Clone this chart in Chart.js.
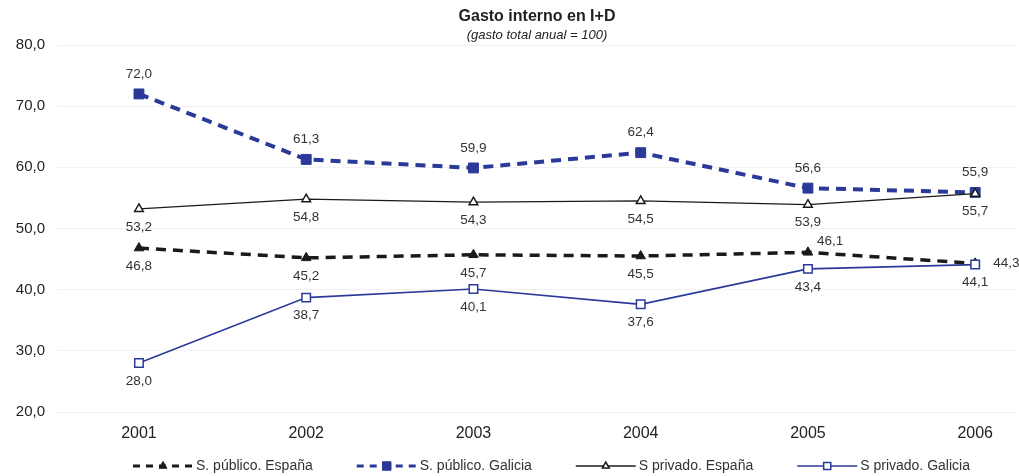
<!DOCTYPE html>
<html>
<head>
<meta charset="utf-8">
<script src="https://cdn.jsdelivr.net/npm/chart.js@4/dist/chart.umd.min.js"></script>
<style>
  html, body { margin: 0; padding: 0; background: #fff; }
  #wrap { width: 1019px; height: 476px; position: relative; }
</style>
</head>
<body>
<div id="wrap"><canvas id="gastoChart"></canvas></div>
<script>
// data
const years = [2001, 2002, 2003, 2004, 2005, 2006];
const publicoEspana = [46.8, 45.2, 45.7, 45.5, 46.1, 44.3];
const publicoGalicia = [72.0, 61.3, 59.9, 62.4, 56.6, 55.9];
const privadoEspana = [53.2, 54.8, 54.3, 54.5, 53.9, 55.7];
const privadoGalicia = [28.0, 38.7, 40.1, 37.6, 43.4, 44.1];
const yTicks = [20, 30, 40, 50, 60, 70, 80];

const FONT = "'Liberation Sans', Arial, sans-serif";
const BLUE = '#2b3a98';
const BLACK = '#1a1a1a';
const TXT = '#333333';

function fmt(v){ return v.toFixed(1).replace('.', ','); }
function pts(arr){ return arr.map(function(v, i){ return { x: years[i], y: v }; }); }

// labels next to each point
const pointLabels = {
  id: 'pointLabels',
  afterDatasetsDraw(chart){
    const ctx = chart.ctx;
    ctx.save();
    ctx.font = '13.5px ' + FONT;
    ctx.fillStyle = TXT;
    chart.data.datasets.forEach(function(ds, di){
      const meta = chart.getDatasetMeta(di);
      meta.data.forEach(function(el, i){
        const pos = (ds.labelPos && ds.labelPos[i]) || 'below';
        const txt = fmt(ds.data[i].y);
        let x = el.x, y = el.y;
        ctx.textBaseline = 'middle';
        ctx.textAlign = 'center';
        if (pos === 'above') y -= 20;
        else if (pos === 'below') y += 18;
        else if (pos === 'right') { ctx.textAlign = 'left'; x += 18; }
        else if (pos === 'aboveRight') { ctx.textAlign = 'left'; x += 9; y -= 11; }
        ctx.fillText(txt, x, y);
      });
    });
    ctx.restore();
  }
};

// legend drawn by hand so that each sample is a line with its marker
const lineLegend = {
  id: 'lineLegend',
  afterDraw(chart){
    const ctx = chart.ctx;
    const y = chart.height - 10;
    const sample = 60, gap = 44;
    let x = 133;
    ctx.save();
    ctx.font = '14px ' + FONT;
    ctx.textBaseline = 'middle';
    ctx.textAlign = 'left';
    chart.data.datasets.forEach(function(ds){
      ctx.save();
      ctx.strokeStyle = ds.borderColor;
      ctx.lineWidth = Math.min(ds.borderWidth, 3);
      ctx.setLineDash(ds.borderDash ? [7, 6] : []);
      ctx.beginPath();
      ctx.moveTo(x, y);
      ctx.lineTo(x + sample, y);
      ctx.stroke();
      ctx.setLineDash([]);
      ctx.fillStyle = ds.pointBackgroundColor;
      ctx.strokeStyle = ds.pointBorderColor;
      ctx.lineWidth = ds.pointBorderWidth;
      Chart.helpers.drawPoint(ctx, { pointStyle: ds.pointStyle, radius: ds.pointRadius - 1, borderWidth: ds.pointBorderWidth, rotation: 0 }, x + sample / 2, y);
      ctx.restore();
      ctx.fillStyle = TXT;
      ctx.fillText(ds.label, x + sample + 3, y);
      x += sample + 3 + ctx.measureText(ds.label).width + gap;
    });
    ctx.restore();
  }
};

document.addEventListener('DOMContentLoaded', function(){
  const ctx = document.getElementById('gastoChart');
  new Chart(ctx, {
    type: 'line',
    data: {
      datasets: [{
        label: 'S. público. España',
        data: pts(publicoEspana),
        borderColor: BLACK,
        borderWidth: 3.5,
        borderDash: [10, 7],
        pointStyle: 'triangle',
        pointRadius: 5.5,
        pointBackgroundColor: BLACK,
        pointBorderColor: BLACK,
        pointBorderWidth: 1,
        labelPos: ['below', 'below', 'below', 'below', 'aboveRight', 'right'],
        order: 3
      }, {
        label: 'S. público. Galicia',
        data: pts(publicoGalicia),
        borderColor: BLUE,
        borderWidth: 4,
        borderDash: [10, 7],
        pointStyle: 'rect',
        pointRadius: 7,
        pointBackgroundColor: BLUE,
        pointBorderColor: BLUE,
        pointBorderWidth: 1,
        labelPos: ['above', 'above', 'above', 'above', 'above', 'above'],
        order: 2
      }, {
        label: 'S privado. España',
        data: pts(privadoEspana),
        borderColor: BLACK,
        borderWidth: 1.3,
        pointStyle: 'triangle',
        pointRadius: 5,
        pointBackgroundColor: '#ffffff',
        pointBorderColor: BLACK,
        pointBorderWidth: 1.5,
        labelPos: ['below', 'below', 'below', 'below', 'below', 'below'],
        order: 1
      }, {
        label: 'S privado. Galicia',
        data: pts(privadoGalicia),
        borderColor: BLUE,
        borderWidth: 1.6,
        pointStyle: 'rect',
        pointRadius: 6,
        pointBackgroundColor: '#ffffff',
        pointBorderColor: BLUE,
        pointBorderWidth: 1.5,
        labelPos: ['below', 'below', 'below', 'below', 'below', 'below'],
        order: 0
      }]
    },
    options: {
      responsive: true,
      maintainAspectRatio: false,
      animation: false,
      tension: 0,
      layout: { autoPadding: false, padding: { left: 0, right: 2, top: 0, bottom: 34 } },
      plugins: {
        legend: { display: false },
        tooltip: { enabled: false },
        title: {
          display: true, text: 'Gasto interno en I+D', color: '#222', fullSize: false,
          font: { family: FONT, size: 16, weight: 'bold' }, padding: { top: 7.4, bottom: 0 }
        },
        subtitle: {
          display: true, text: '(gasto total anual = 100)', color: '#222', fullSize: false,
          font: { family: FONT, size: 13, style: 'italic' }, padding: { top: 0.6, bottom: 2.2 }
        }
      },
      scales: {
        x: {
          type: 'linear',
          min: 2000.51,
          max: 2006.25,
          grid: { display: false, drawTicks: false },
          border: { display: false },
          afterBuildTicks: function(s){ s.ticks = years.map(function(v){ return { value: v }; }); },
          afterFit: function(s){ s.height = 30; s.paddingLeft = 0; s.paddingRight = 0; },
          ticks: {
            color: '#222', padding: 12, autoSkip: false, maxRotation: 0,
            font: { family: FONT, size: 16 },
            callback: function(v){ return String(v); }
          }
        },
        y: {
          min: yTicks[0],
          max: yTicks[yTicks.length - 1],
          afterFit: function(s){ s.width = 57; },
          afterBuildTicks: function(s){ s.ticks = yTicks.map(function(v){ return { value: v }; }); },
          grid: { color: '#f1f1f1', drawTicks: false },
          border: { display: false },
          ticks: {
            color: '#222', padding: 12,
            font: { family: FONT, size: 15 },
            callback: function(v){ return fmt(v); }
          }
        }
      }
    },
    plugins: [pointLabels, lineLegend]
  });
});
</script>
</body>
</html>
